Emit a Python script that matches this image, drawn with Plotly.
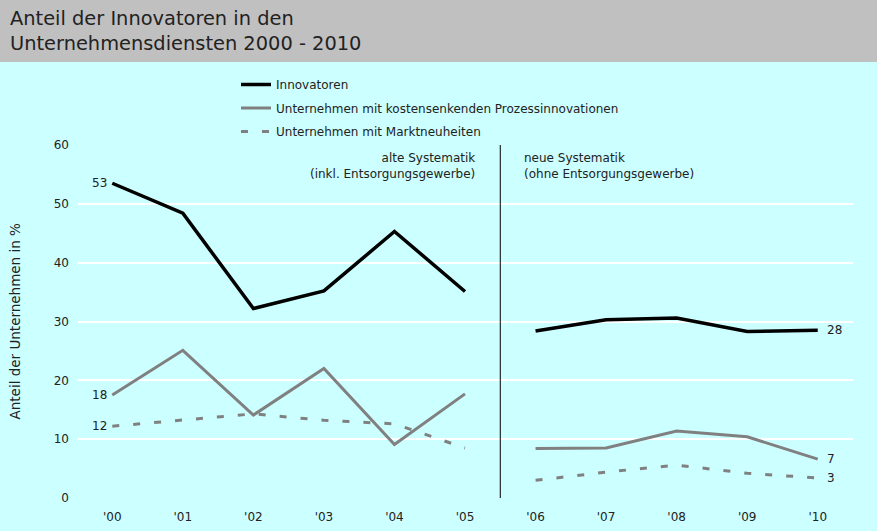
import plotly.graph_objects as go

years = ["'00", "'01", "'02", "'03", "'04", "'05", "'06", "'07", "'08", "'09", "'10"]
innovatoren = [53.5, 48.4, 32.2, 35.2, 45.3, 35.1, 28.4, 30.3, 30.6, 28.3, 28.5]
prozess = [17.5, 25.1, 14.1, 22.0, 9.1, 17.7, 8.4, 8.5, 11.4, 10.4, 6.6]
markt = [12.2, 13.2, 14.3, 13.2, 12.6, 8.5, 3.0, 4.4, 5.6, 4.2, 3.4]

old_idx = list(range(0, 6))
new_idx = list(range(6, 11))

FONT = "DejaVu Sans"
TXT = "#222222"
GRAY = "#808080"
FS = 12

fig = go.Figure()

series = [
    ("Innovatoren", innovatoren, dict(color="black", width=3.5)),
    ("Unternehmen mit kostensenkenden Prozessinnovationen", prozess, dict(color=GRAY, width=3)),
    ("Unternehmen mit Marktneuheiten", markt, dict(color=GRAY, width=3, dash="7px,14px")),
]

for i, (name, vals, line) in enumerate(series):
    for part, idx in enumerate([old_idx, new_idx]):
        fig.add_trace(go.Scatter(
            x=[years[k] for k in idx], y=[vals[k] for k in idx],
            mode="lines", name=name, line=line,
            legendgroup=name, showlegend=(part == 0),
            hoverinfo="x+y",
        ))

# data labels
labels = [
    (years[0], innovatoren[0], "53", "right"),
    (years[0], prozess[0], "18", "right"),
    (years[0], markt[0], "12", "right"),
    (years[-1], innovatoren[-1], "28", "left"),
    (years[-1], prozess[-1], "7", "left"),
    (years[-1], markt[-1], "3", "left"),
]
for x, y, t, side in labels:
    fig.add_annotation(
        x=x, y=y, text=t, showarrow=False,
        xanchor=side, yanchor="middle",
        xshift=-3 if side == "right" else 7,
        font=dict(family=FONT, size=FS, color=TXT),
    )

# separator line between old and new methodology
fig.add_shape(type="line", xref="x", yref="y", x0=5.5, x1=5.5, y0=0, y1=60,
              line=dict(color="black", width=1))

fig.add_annotation(x=5.5, y=60, xref="x", yref="y", text="alte Systematik<br>(inkl. Entsorgungsgewerbe)",
                   showarrow=False, xanchor="right", yanchor="top", align="right", xshift=-23, yshift=-4,
                   font=dict(family=FONT, size=FS, color=TXT))
fig.add_annotation(x=5.5, y=60, xref="x", yref="y", text="neue Systematik<br>(ohne Entsorgungsgewerbe)",
                   showarrow=False, xanchor="left", yanchor="top", align="left", xshift=22, yshift=-4,
                   font=dict(family=FONT, size=FS, color=TXT))

# y axis title
fig.add_annotation(x=(14 - 77) / 776, y=0.5, xref="paper", yref="paper", text="Anteil der Unternehmen in %",
                   showarrow=False, textangle=-90, xanchor="center", yanchor="middle",
                   font=dict(family=FONT, size=13.5, color=TXT))

# title bar
fig.add_shape(type="rect", xref="paper", yref="paper", x0=-0.2, x1=1.2,
              y0=1 + (145 - 62) / 353, y1=1.5, fillcolor="#C0C0C0", line=dict(width=0), layer="below")
fig.add_annotation(x=(8 - 77) / 776, y=1 + (145 - 5) / 353, xref="paper", yref="paper",
                   text="Anteil der Innovatoren in den<br>Unternehmensdiensten 2000 - 2010",
                   showarrow=False, xanchor="left", yanchor="top", align="left",
                   font=dict(family=FONT, size=19.4, color=TXT))

fig.update_layout(
    width=877, height=531,
    margin=dict(l=77, r=24, t=145, b=33),
    paper_bgcolor="#CCFFFF", plot_bgcolor="#CCFFFF",
    xaxis=dict(type="category", categoryorder="array", categoryarray=years, range=[-0.5, 10.5],
               showgrid=False, showline=False, zeroline=False, ticks="", automargin=False,
               ticklabelstandoff=10,
               tickfont=dict(family=FONT, size=FS, color=TXT)),
    yaxis=dict(range=[0, 60], dtick=10, showgrid=True, gridcolor="white", gridwidth=2,
               zeroline=False, showline=False, ticks="", automargin=False,
               ticklabelstandoff=7,
               tickfont=dict(family=FONT, size=FS, color=TXT)),
    legend=dict(x=(236 - 77) / 776, xanchor="left", y=1 + (145 - 70) / 353, yanchor="top",
                bgcolor="rgba(0,0,0,0)", font=dict(family=FONT, size=FS, color=TXT),
                tracegroupgap=4.5, traceorder="grouped"),
    showlegend=True,
)

fig.write_html("out.html", config={"displayModeBar": False},
               post_script="document.body.style.margin='0';document.body.style.padding='0';window.dispatchEvent(new Event('resize'));")
